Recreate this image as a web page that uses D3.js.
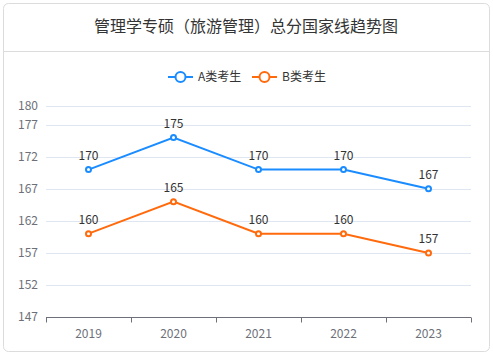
<!DOCTYPE html>
<html><head><meta charset="utf-8">
<script src="https://cdn.jsdelivr.net/npm/d3@7/dist/d3.min.js"></script>
<style>
html,body{margin:0;padding:0;background:#fff;}
svg{display:block;font-family:"Noto Sans CJK SC","Noto Sans",sans-serif;}
</style></head>
<body><svg id="c" width="493" height="355"></svg>
<script>
const title = "管理学专硕（旅游管理）总分国家线趋势图";
const years = ["2019","2020","2021","2022","2023"];
const seriesNames = ["A类考生","B类考生"];
const seriesA = [170,175,170,170,167];
const seriesB = [160,165,160,160,157];
const yTicks = [147,152,157,162,167,172,177,180];
const colors = ["#1a8cff","#ff6a0d"];

const svg = d3.select("#c");
// card
svg.append("rect").attr("x",3.5).attr("y",3.5).attr("width",486).attr("height",348)
  .attr("rx",5).attr("fill","#fff").attr("stroke","#dcdcdc");
svg.append("line").attr("x1",4).attr("x2",489).attr("y1",51.5).attr("y2",51.5).attr("stroke","#dcdcdc");
svg.append("text").attr("x",246).attr("y",32).attr("text-anchor","middle")
  .attr("font-size",16).attr("fill","#333").text(title);

const x = d3.scaleBand().domain(years).range([46,471]);
const y = d3.scaleLinear().domain([147,180]).range([317,105.5]);

// grid
svg.append("g").selectAll("line").data(yTicks.filter(t=>t!==147)).join("line")
  .attr("x1",46).attr("x2",471).attr("y1",d=>Math.round(y(d))+0.5).attr("y2",d=>Math.round(y(d))+0.5)
  .attr("stroke","#e0e6f1");
// y labels
svg.append("g").selectAll("text").data(yTicks).join("text")
  .attr("x",38).attr("y",d=>y(d)).attr("dy","0.35em").attr("text-anchor","end")
  .attr("font-size",12).attr("fill","#6e7079").text(d=>d);
// x axis
const xa = svg.append("g").attr("transform","translate(0,317.5)");
xa.append("line").attr("x1",46).attr("x2",471).attr("stroke","#6e7079");
const bounds = years.map(d=>x(d)).concat([x(years[years.length-1])+x.bandwidth()]);
xa.selectAll("line.t").data(bounds).join("line").attr("class","t")
  .attr("x1",d=>Math.round(d)+0.5).attr("x2",d=>Math.round(d)+0.5).attr("y1",0).attr("y2",5).attr("stroke","#6e7079");
xa.selectAll("text").data(years).join("text")
  .attr("x",d=>x(d)+x.bandwidth()/2).attr("y",20).attr("text-anchor","middle")
  .attr("font-size",12).attr("fill","#6e7079").text(d=>d);

const all = [seriesA, seriesB];
const line = d3.line().x((d,i)=>x(years[i])+x.bandwidth()/2).y(d=>y(d));
all.forEach((s,k)=>{
  const g = svg.append("g");
  g.append("path").datum(s).attr("d",line).attr("fill","none").attr("stroke",colors[k]).attr("stroke-width",2);
  g.selectAll("circle").data(s).join("circle")
    .attr("cx",(d,i)=>x(years[i])+x.bandwidth()/2).attr("cy",d=>y(d)).attr("r",2.5)
    .attr("fill","#fff").attr("stroke",colors[k]).attr("stroke-width",2);
  g.selectAll("text").data(s).join("text")
    .attr("x",(d,i)=>x(years[i])+x.bandwidth()/2).attr("y",d=>y(d)-9.5).attr("text-anchor","middle")
    .attr("font-size",12).attr("fill","#333").text(d=>d);
});

// legend
const leg = [{x:168,t:198},{x:252,t:282}];
seriesNames.forEach((n,k)=>{
  const g = svg.append("g");
  const cy = 77;
  g.append("line").attr("x1",leg[k].x).attr("x2",leg[k].x+25).attr("y1",cy).attr("y2",cy)
    .attr("stroke",colors[k]).attr("stroke-width",2);
  g.append("circle").attr("cx",leg[k].x+12.5).attr("cy",cy).attr("r",5)
    .attr("fill","#fff").attr("stroke",colors[k]).attr("stroke-width",2);
  g.append("text").attr("x",leg[k].t).attr("y",cy).attr("dy","0.35em")
    .attr("font-size",12).attr("fill","#333").text(n);
});
</script></body></html>
